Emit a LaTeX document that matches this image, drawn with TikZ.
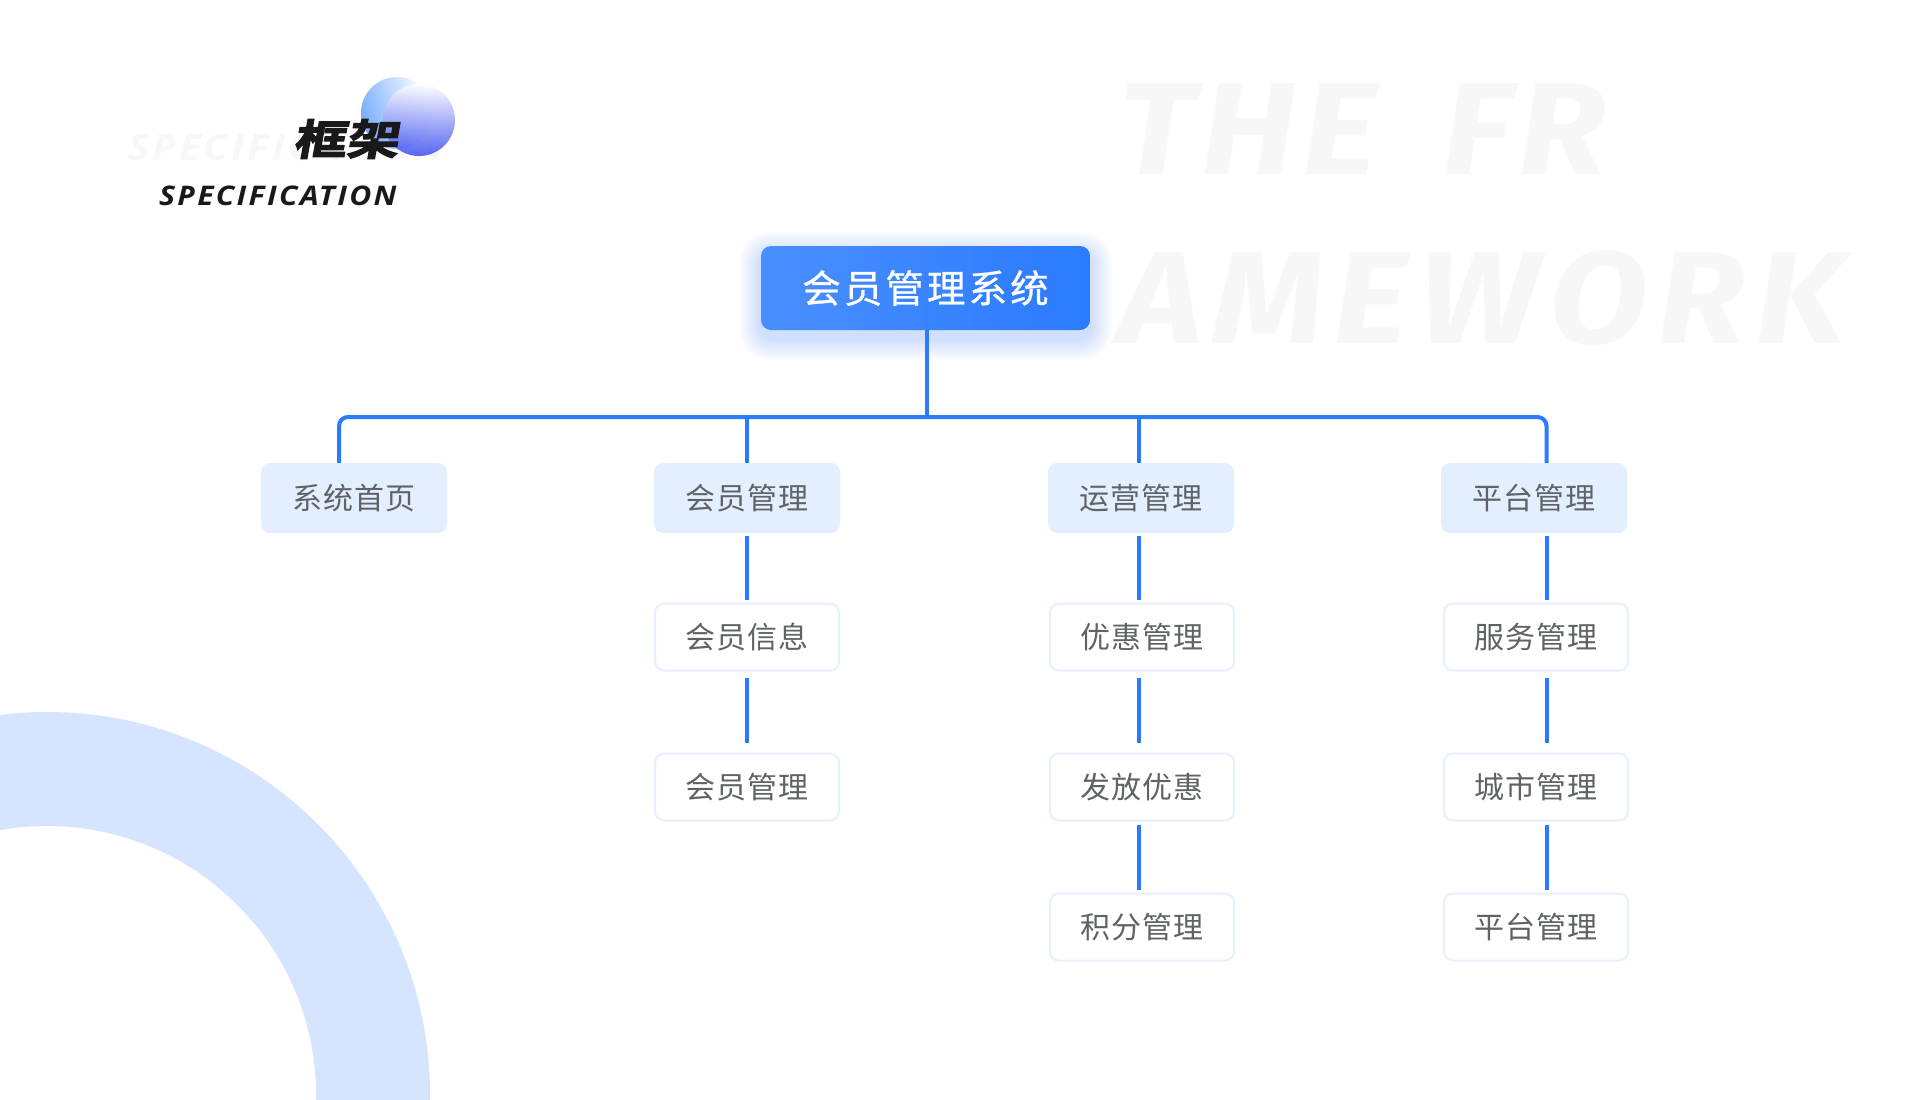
\documentclass[tikz,border=0pt]{standalone}
\usepackage{fontspec}
\usetikzlibrary{fadings}
\newfontfamily\cjkfont[LetterSpace=3]{Noto Sans CJK SC}
\newfontfamily\rootfont[LetterSpace=8,FakeBold=0.6]{Noto Sans CJK SC}
\newfontfamily\logofont[FakeSlant=0.18,FakeBold=3,FakeStretch=1.25]{Noto Sans CJK SC Bold}
\newfontfamily\subfont[LetterSpace=8.4,FakeStretch=1.12]{Open Sans}
\newfontfamily\bigfont[LetterSpace=5,FakeStretch=1.1]{Fira Sans}
\newfontfamily\widefont[LetterSpace=7.8,FakeStretch=1.1]{Fira Sans}
\definecolor{wireblue}{HTML}{2A7BFF}
\definecolor{headfill}{HTML}{E3EFFF}
\definecolor{leafline}{HTML}{E6F0FF}
\definecolor{ringblue}{HTML}{D5E5FF}
\definecolor{labelgray}{HTML}{5F6368}
\definecolor{ghostgray}{HTML}{F7F7F7}
\definecolor{ballA}{HTML}{6FA8FF}
\definecolor{ballB}{HTML}{3A4CF0}
\definecolor{ballC}{HTML}{E2DFFF}
\tikzfading[name=fadeballA,left color=transparent!5,middle color=transparent!70,right color=transparent!100]
\tikzset{
    wire/.style={draw=wireblue,line width=4pt},
    link/.style={wire,shorten >=3pt,shorten <=3pt},
    linklow/.style={wire,shorten >=10pt,shorten <=6pt},
    rootbox/.style={rounded corners=10pt,left color=white!15!wireblue,right color=wireblue,
        text=white,minimum width=329pt,minimum height=84pt,inner sep=0pt,
        font=\rootfont\fontsize{38.5}{44}\selectfont},
    headbox/.style={rounded corners=9pt,fill=headfill,text=labelgray,minimum width=186pt,
        minimum height=70pt,inner sep=0pt,font=\cjkfont\fontsize{30}{34}\selectfont},
    leafbox/.style={rounded corners=9pt,draw=leafline,line width=2pt,fill=white,text=labelgray,
        minimum width=184pt,minimum height=67pt,inner sep=0pt,font=\cjkfont\fontsize{30}{34}\selectfont},
    ghost/.style={text=ghostgray,anchor=base west,inner sep=0pt},
}
\begin{document}
\begin{tikzpicture}[x=1pt,y=-1pt]
    \useasboundingbox (0,0) rectangle (1920,1100);
    \fill[white] (0,0) rectangle (1920,1100);
    %% ring
    \begin{scope}
        \clip (0,0) rectangle (1920,1100);
        \fill[ringblue,even odd rule] (47,1095) circle (383pt) (47,1095) circle (269pt);
    \end{scope}
    %% background words
    \node[ghost,font=\bigfont\bfseries\itshape\fontsize{131}{131}\selectfont] (bgA) at (1118,174) {THE\hspace{66pt}FR};
    \node[ghost,font=\widefont\bfseries\itshape\fontsize{131}{131}\selectfont] (bgB) at (1118,343) {AMEWORK};
    \node[ghost,font=\subfont\bfseries\itshape\fontsize{36}{36}\selectfont] (bgC) at (128,160) {SPECIFICATION};
    %% title
    \fill[ballA,path fading=fadeballA,fading angle=20] (397,113) circle (36pt);
    \shade[top color=white,middle color=ballC,bottom color=ballB,opacity=0.85] (419,120) circle (36pt);
    \node[anchor=base west,inner sep=0pt,text=black!90,font=\logofont\fontsize{42}{42}\selectfont] (logo) at (293,155) {框架};
    \node[anchor=base west,inner sep=0pt,text=black!90,font=\subfont\bfseries\itshape\fontsize{27}{27}\selectfont] (sub) at (159,205) {SPECIFICATION};
    %% root
    \foreach \g in {22,20,...,2}
        \fill[wireblue,opacity=0.018,rounded corners={(\g+9)*1pt}] (761-\g,246-\g+8) rectangle (1090+\g,330+\g+8);
    \node[rootbox] (root) at (925.5,288) {会员管理系统};
    %% columns
    \coordinate (colA) at (339,417);
    \coordinate (colB) at (746.5,417);
    \coordinate (colC) at (1139,417);
    \coordinate (colD) at (1546.5,417);
    %% first row
    \node[headbox] (home) at (354,498) {系统首页};
    \node[headbox] (member) at (747,498) {会员管理};
    \node[headbox] (ops) at (1141,498) {运营管理};
    \node[headbox] (plat) at (1534,498) {平台管理};
    %% leaves
    \node[leafbox] (memberA) at (747,637) {会员信息};
    \node[leafbox] (memberB) at (747,787) {会员管理};
    \node[leafbox] (opsA) at (1142,637) {优惠管理};
    \node[leafbox] (opsB) at (1142,787) {发放优惠};
    \node[leafbox] (opsC) at (1142,927) {积分管理};
    \node[leafbox] (platA) at (1536,637) {服务管理};
    \node[leafbox] (platB) at (1536,787) {城市管理};
    \node[leafbox] (platC) at (1536,927) {平台管理};
    %% bus
    \draw[wire,opacity=0.15] (root.south -| 927,0) -- ++(0,-28);
    \draw[wire] (root.south -| 927,0) -- (927,417);
    \draw[wire,rounded corners=9pt] (colA |- home.north) |- (colB) -- (colC) -| (colD |- plat.north);
    \draw[wire] (colB) -- (colB |- member.north);
    \draw[wire] (colC) -- (colC |- ops.north);
    %% links
    \draw[link] (colB |- member.south) -- (colB |- memberA.north);
    \draw[linklow] (colB |- memberA.south) -- (colB |- memberB.north);
    \draw[link] (colC |- ops.south) -- (colC |- opsA.north);
    \draw[linklow] (colC |- opsA.south) -- (colC |- opsB.north);
    \draw[link] (colC |- opsB.south) -- (colC |- opsC.north);
    \draw[link] (colD |- plat.south) -- (colD |- platA.north);
    \draw[linklow] (colD |- platA.south) -- (colD |- platB.north);
    \draw[link] (colD |- platB.south) -- (colD |- platC.north);
\end{tikzpicture}
\end{document}
